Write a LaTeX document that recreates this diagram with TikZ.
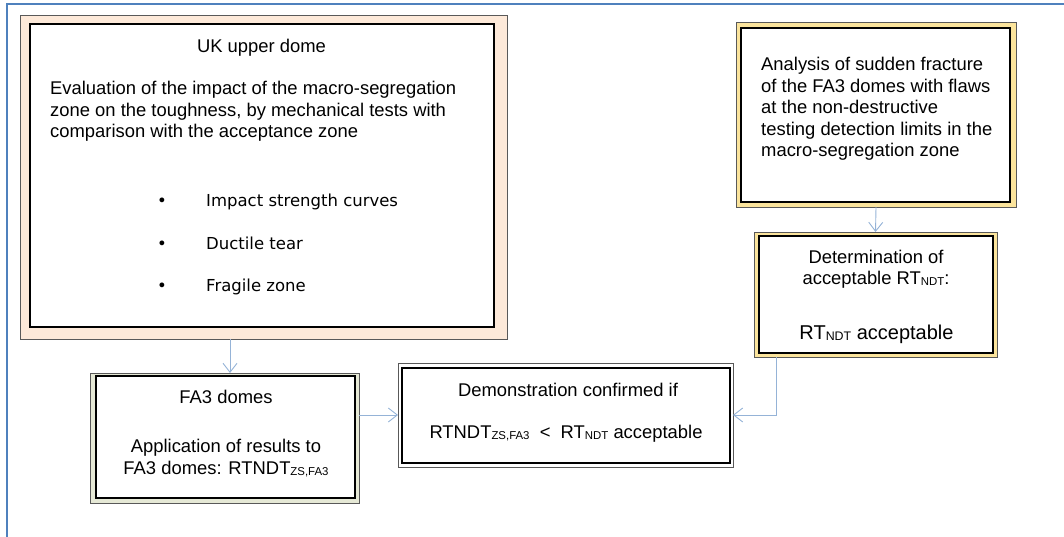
\documentclass[tikz,border=0pt]{standalone}
\usepackage{fontspec}
\setmainfont{Liberation Sans}
\newfontfamily\bulfont{DejaVu Sans}
\usetikzlibrary{arrows.meta}
\definecolor{frameblue}{HTML}{4F81BD}
\definecolor{arrowblue}{HTML}{95B3D7}
\definecolor{peach}{HTML}{FDE9D9}
\definecolor{paleyellow}{HTML}{FBE49C}
\definecolor{palegreen}{HTML}{E6E9D6}
\newcommand\sbx[1]{\raisebox{-1.6pt}{\scalebox{0.62}{#1}}}
\begin{document}
\begin{tikzpicture}[x=1pt,y=-1pt,
  obox/.style={draw=black!65, line width=0.8pt, inner sep=0pt, outer sep=0pt, anchor=north west},
  ibox/.style={draw=black, line width=1.4pt, fill=white, inner sep=0pt, outer sep=0pt, anchor=north west},
  txt/.style={inner sep=0pt, font=\fontsize{18.4}{22}\selectfont},
  bigtxt/.style={inner sep=0pt, font=\fontsize{20}{24}\selectfont},
  bul/.style={inner sep=0pt, font=\bulfont\fontsize{16.5}{20}\selectfont},
  arr/.style={draw=arrowblue, line width=0.9pt, -{Straight Barb[length=9pt,width=14pt]}}]
\useasboundingbox (0,0) rectangle (1064,537);
% outer frame
\draw[frameblue, line width=1.6pt] (7,537) -- (7,4) -- (1064,4);

% UK upper dome
\node[obox, fill=peach, minimum width=487pt, minimum height=324pt] (ukO) at (20,15) {};
\node[ibox, minimum width=464pt, minimum height=303pt] (ukI) at (30,24) {};
\node[txt, anchor=base] (ukT) at (261.5,52.7) {UK upper dome};
\node[txt, anchor=base west] (ev1) at (50,95) {Evaluation of the impact of the macro-segregation};
\node[txt, anchor=base west] (ev2) at (50,116.5) {zone on the toughness, by mechanical tests with};
\node[txt, anchor=base west] (ev3) at (50,138) {comparison with the acceptance zone};
\node[bul, anchor=base] (b1) at (162,206.7) {•};
\node[bul, anchor=base west] (t1) at (206,206.7) {Impact strength curves};
\node[bul, anchor=base] (b2) at (162,249.3) {•};
\node[bul, anchor=base west] (t2) at (206,249.3) {Ductile tear};
\node[bul, anchor=base] (b3) at (162,291) {•};
\node[bul, anchor=base west] (t3) at (206,291) {Fragile zone};

% FA3 domes
\node[obox, fill=palegreen, minimum width=269pt, minimum height=130pt] (faO) at (90,373) {};
\node[ibox, minimum width=259pt, minimum height=122pt] (faI) at (96,376) {};
\node[txt, anchor=base] (fa1) at (226,403.3) {FA3 domes};
\node[txt, anchor=base] (fa2) at (226,452.7) {Application of results to};
\node[txt, anchor=base] (fa3) at (226,474.3) {FA3 domes: RTNDT\sbx{ZS,FA3}};

% Demonstration
\node[obox, fill=white, minimum width=335pt, minimum height=104pt] (dmO) at (398,363) {};
\node[ibox, minimum width=328pt, minimum height=95pt] (dmI) at (402,368) {};
\node[txt, anchor=base] (dm1) at (568,396) {Demonstration confirmed if};
\node[txt, anchor=base] (dm2) at (566,438) {RTNDT\sbx{ZS,FA3}\ \ <\ \ RT\sbx{NDT} acceptable};

% Analysis
\node[obox, fill=paleyellow, minimum width=280pt, minimum height=185pt] (anO) at (736,22) {};
\node[ibox, minimum width=269pt, minimum height=174pt] (anI) at (741,28) {};
\node[txt, anchor=base west] (an1) at (761,70.7) {Analysis of sudden fracture};
\node[txt, anchor=base west] (an2) at (761,92.2) {of the FA3 domes with flaws};
\node[txt, anchor=base west] (an3) at (761,113.7) {at the non-destructive};
\node[txt, anchor=base west] (an4) at (761,135.2) {testing detection limits in the};
\node[txt, anchor=base west] (an5) at (761,156.7) {macro-segregation zone};

% Determination
\node[obox, fill=paleyellow, minimum width=243pt, minimum height=125pt] (deO) at (754,232) {};
\node[ibox, minimum width=234pt, minimum height=117pt] (deI) at (759,236) {};
\node[txt, anchor=base] (de1) at (876,263.3) {Determination of};
\node[txt, anchor=base] (de2) at (876,284) {acceptable RT\sbx{NDT}:};
\node[bigtxt, anchor=base] (de3) at (876.5,339.3) {RT\sbx{NDT} acceptable};

% connectors
\path (faO.north) ++(5.5,0) coordinate (faIn);
\draw[arr] (ukO.south -| faIn) -- (faIn);
\draw[arr] (faO.east |- dmO.west) -- (dmO.west);
\draw[arr] (anO.south) -- (deO.north);
\path (deO.south west) ++(22,0) coordinate (deOut);
\draw[arr] (deOut) |- (dmO.east);
\end{tikzpicture}
\end{document}
